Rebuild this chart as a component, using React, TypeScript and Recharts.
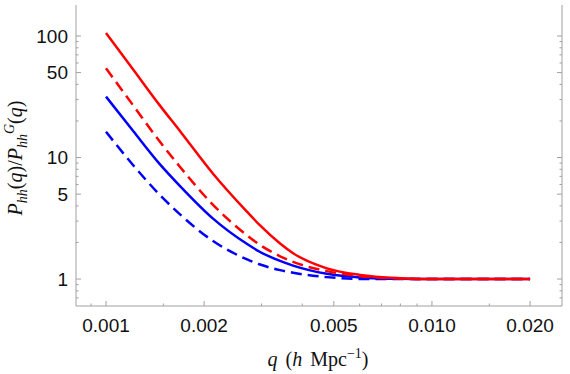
import React from "react";
import { LineChart, Line, XAxis, YAxis } from "recharts";

// q in h/Mpc, ratios
const qValues = [0.001, 0.00121, 0.00146, 0.00169, 0.00213, 0.00271, 0.00297, 0.00342, 0.00375, 0.00476, 0.00601, 0.00798, 0.01, 0.014, 0.02];
const redSolid = [105.9, 53.3, 27.0, 16.4, 7.36, 3.57, 2.76, 1.96, 1.63, 1.225, 1.081, 1.017, 1.0, 1.0, 1.0];
const redDashed = [54.2, 27.0, 13.6, 8.32, 4.08, 2.285, 1.905, 1.54, 1.383, 1.162, 1.056, 1.0095, 1.0, 1.0, 1.0];
const blueSolid = [31.7, 16.6, 8.86, 5.79, 3.14, 1.94, 1.67, 1.409, 1.289, 1.104, 1.031, 1.004, 1.0, 1.0, 1.0];
const blueDashed = [16.3, 8.69, 4.95, 3.39, 2.055, 1.45, 1.316, 1.184, 1.127, 1.037, 1.002, 1.0, 1.0, 1.0, 1.0];

const xMajor = [0.001, 0.002, 0.005, 0.01, 0.02];
const xLabels = ["0.001", "0.002", "0.005", "0.010", "0.020"];
const xMinor = [0.0009, 0.0015, 0.003, 0.004, 0.006, 0.007, 0.008, 0.009, 0.015];
const yMajor = [1, 5, 10, 50, 100];
const yLabels = ["1", "5", "10", "50", "100"];
const yMinor = [0.7, 0.8, 0.9, 2, 3, 4, 6, 7, 8, 9, 20, 30, 40, 60, 70, 80, 90];

const X_DOMAIN = [0.000809, 0.02506];
const Y_DOMAIN = [0.6, 180];

const FRAME = "#a0a0a0";
const SANS = "'Liberation Sans', Arial, sans-serif";
const SERIF = "'Liberation Serif', 'Times New Roman', serif";

const data = qValues.map((q, i) => ({
  q,
  rs: redSolid[i],
  rd: redDashed[i],
  bs: blueSolid[i],
  bd: blueDashed[i],
}));

const xTicks = [...xMajor, ...xMinor];
const yTicks = [...yMajor, ...yMinor];

const makeTick = (side: string) => (props: any) => {
  const { x, y, payload } = props;
  const v = payload.value;
  const idx = side === "bottom" || side === "top" ? xMajor.indexOf(v) : yMajor.indexOf(v);
  const len = idx >= 0 ? 5 : 2.5;
  let line;
  if (side === "bottom") line = <line x1={x} x2={x} y1={y} y2={y - len} stroke={FRAME} />;
  else if (side === "top") line = <line x1={x} x2={x} y1={y} y2={y + len} stroke={FRAME} />;
  else if (side === "left") line = <line x1={x} x2={x + len} y1={y} y2={y} stroke={FRAME} />;
  else line = <line x1={x} x2={x - len} y1={y} y2={y} stroke={FRAME} />;
  return (
    <g>
      {line}
      {side === "bottom" && idx >= 0 && (
        <text x={x} y={y + 26} textAnchor="middle" fontSize={19} fontFamily={SANS} fill="#111">
          {xLabels[idx]}
        </text>
      )}
      {side === "left" && idx >= 0 && (
        <text x={x - 8} y={y} dy="0.36em" textAnchor="end" fontSize={19} fontFamily={SANS} fill="#111">
          {yLabels[idx]}
        </text>
      )}
    </g>
  );
};

const XTitle = () => (
  <text x={318} y={366} textAnchor="middle" fontSize={20} fontFamily={SERIF} fill="#111">
    <tspan fontStyle="italic">q</tspan>
    <tspan dx={8}>(</tspan>
    <tspan fontStyle="italic">h</tspan>
    <tspan dx={8}>Mpc</tspan>
    <tspan fontSize={14} dy={-8}>−1</tspan>
    <tspan dy={8}>)</tspan>
  </text>
);

const YTitle = () => (
  <text x={22} y={158} transform="rotate(-90 22 158)" textAnchor="middle" fontSize={20} fontFamily={SERIF} fill="#111">
    <tspan fontStyle="italic">P</tspan>
    <tspan fontStyle="italic" fontSize={14} dy={5}>hh</tspan>
    <tspan dy={-5}>(</tspan>
    <tspan fontStyle="italic">q</tspan>
    <tspan>)/</tspan>
    <tspan fontStyle="italic">P</tspan>
    <tspan fontStyle="italic" fontSize={14} dy={5}>hh</tspan>
    <tspan fontStyle="italic" fontSize={14} dy={-13}>G</tspan>
    <tspan dy={8}>(</tspan>
    <tspan fontStyle="italic">q</tspan>
    <tspan>)</tspan>
  </text>
);

export default function App() {
  return (
    <div style={{ position: "absolute", left: 0, top: 0, width: 570, height: 374, background: "#fff" }}>
      <LineChart width={570} height={374} data={data} margin={{ top: 5, right: 0, bottom: 0, left: 0 }}>
        <XAxis
          xAxisId="b"
          dataKey="q"
          type="number"
          scale="log"
          domain={X_DOMAIN}
          allowDataOverflow
          ticks={xTicks}
          interval={0}
          tickSize={0}
          tickMargin={0}
          tickLine={false}
          axisLine={{ stroke: FRAME }}
          height={68}
          tick={makeTick("bottom")}
          label={<XTitle />}
        />
        <XAxis
          xAxisId="t"
          orientation="top"
          dataKey="q"
          type="number"
          scale="log"
          domain={X_DOMAIN}
          allowDataOverflow
          ticks={xTicks}
          interval={0}
          tickSize={0}
          tickMargin={0}
          tickLine={false}
          axisLine={{ stroke: FRAME }}
          height={0}
          tick={makeTick("top")}
        />
        <YAxis
          yAxisId="l"
          type="number"
          scale="log"
          domain={Y_DOMAIN}
          allowDataOverflow
          ticks={yTicks}
          interval={0}
          tickSize={0}
          tickMargin={0}
          tickLine={false}
          axisLine={{ stroke: FRAME }}
          width={76}
          tick={makeTick("left")}
          label={<YTitle />}
        />
        <YAxis
          yAxisId="r"
          orientation="right"
          type="number"
          scale="log"
          domain={Y_DOMAIN}
          allowDataOverflow
          ticks={yTicks}
          interval={0}
          tickSize={0}
          tickMargin={0}
          tickLine={false}
          axisLine={{ stroke: FRAME }}
          width={8}
          tick={makeTick("right")}
        />
        <Line xAxisId="b" yAxisId="l" type="monotone" dataKey="bd" stroke="#0000ff" strokeWidth={2.5} strokeDasharray="11 6" dot={false} isAnimationActive={false} />
        <Line xAxisId="b" yAxisId="l" type="monotone" dataKey="bs" stroke="#0000ff" strokeWidth={2.5} dot={false} isAnimationActive={false} />
        <Line xAxisId="b" yAxisId="l" type="monotone" dataKey="rd" stroke="#ff0000" strokeWidth={2.5} strokeDasharray="11 6" dot={false} isAnimationActive={false} />
        <Line xAxisId="b" yAxisId="l" type="monotone" dataKey="rs" stroke="#ff0000" strokeWidth={2.5} dot={false} isAnimationActive={false} />
      </LineChart>
    </div>
  );
}
